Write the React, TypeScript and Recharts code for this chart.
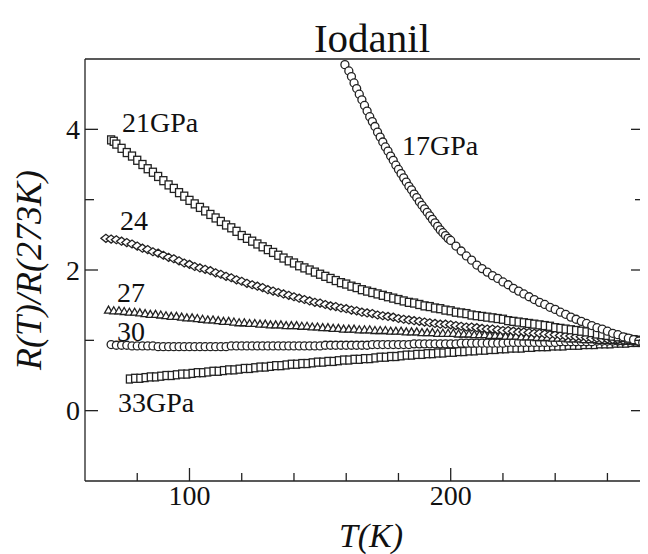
import React from 'react';
import { ScatterChart, Scatter, XAxis, YAxis, Customized } from 'recharts';

// Temperature (K), R(T)/R(273K) pairs
const s17: [number, number][] = [
  [159.5,4.92],[161,4.83],[162,4.75],[163,4.66],[164,4.58],[165,4.50],[166,4.42],[167,4.34],[168,4.26],[169,4.18],
  [170,4.11],[171,4.04],[172,3.96],[173,3.89],[174,3.82],[175,3.75],[176,3.69],[177,3.62],[178,3.56],[179,3.49],
  [180,3.43],[181,3.37],[182,3.31],[183,3.25],[184,3.19],[185,3.14],[186,3.08],[187,3.03],[188,2.97],[189,2.92],
  [190,2.87],[191,2.82],[192,2.77],[193,2.72],[194,2.67],[195,2.62],[196,2.57],[197,2.53],[198,2.49],[199,2.45],
  [200,2.42],[202,2.34],[204,2.27],[206,2.20],[208,2.14],[210,2.07],[212,2.02],[214,1.97],[216,1.92],[218,1.88],
  [220,1.83],[222,1.79],[224,1.74],[226,1.70],[228,1.66],[230,1.62],[232,1.58],[234,1.54],[236,1.51],[238,1.47],
  [240,1.44],[242,1.40],[244,1.37],[246,1.33],[248,1.30],[250,1.27],[252,1.24],[254,1.21],[256,1.18],[258,1.16],
  [260,1.13],[262,1.10],[264,1.08],[266,1.05],[268,1.03],[270,1.01],[272,0.99],[273.5,0.97],
];

const s21: [number, number][] = [
  [70,3.85],[71,3.83],[72,3.79],[74,3.73],[76,3.67],[78,3.62],[80,3.56],[82,3.50],[84,3.44],[86,3.39],[88,3.33],
  [90,3.27],[92,3.21],[94,3.16],[96,3.10],[98,3.05],[100,2.99],[102,2.94],[104,2.89],[106,2.84],[108,2.79],
  [110,2.74],[112,2.69],[114,2.64],[116,2.60],[118,2.55],[120,2.49],[122,2.45],[124,2.41],[126,2.37],[128,2.33],
  [130,2.29],[132,2.25],[134,2.21],[136,2.17],[138,2.13],[140,2.10],[142,2.06],[144,2.03],[146,2.00],[148,1.97],
  [150,1.94],[152,1.91],[154,1.88],[156,1.85],[158,1.82],[160,1.80],[162,1.77],[164,1.75],[166,1.72],[168,1.70],
  [170,1.68],[172,1.66],[174,1.64],[176,1.62],[178,1.60],[180,1.58],[182,1.56],[184,1.54],[186,1.53],[188,1.51],
  [190,1.49],[192,1.48],[194,1.46],[196,1.45],[198,1.43],[200,1.42],[202,1.40],[204,1.39],[206,1.38],[208,1.36],
  [210,1.35],[212,1.34],[214,1.33],[216,1.32],[218,1.31],[220,1.30],[222,1.28],[224,1.27],[226,1.26],[228,1.25],
  [230,1.24],[232,1.23],[234,1.22],[236,1.21],[238,1.20],[240,1.18],[242,1.17],[244,1.16],[246,1.15],[248,1.14],
  [250,1.13],[252,1.12],[254,1.11],[256,1.09],[258,1.08],[260,1.07],[262,1.06],[264,1.05],[266,1.04],[268,1.02],
  [270,1.01],[272,1.00],[273,0.99],
];

const s24: [number, number][] = [
  [68,2.45],[70,2.44],[72,2.43],[74,2.41],[76,2.39],[78,2.37],[80,2.34],[82,2.31],[84,2.29],[86,2.26],[88,2.24],
  [90,2.21],[92,2.18],[94,2.16],[96,2.13],[98,2.10],[100,2.08],[102,2.05],[104,2.03],[106,2.01],[108,1.99],
  [110,1.96],[112,1.94],[114,1.91],[116,1.89],[118,1.86],[120,1.84],[122,1.81],[124,1.79],[126,1.77],[128,1.75],
  [130,1.72],[132,1.70],[134,1.68],[136,1.66],[138,1.64],[140,1.62],[142,1.60],[144,1.58],[146,1.56],[148,1.54],
  [150,1.53],[152,1.51],[154,1.49],[156,1.48],[158,1.46],[160,1.45],[162,1.43],[164,1.42],[166,1.40],[168,1.39],
  [170,1.38],[172,1.36],[174,1.35],[176,1.34],[178,1.33],[180,1.31],[182,1.30],[184,1.29],[186,1.28],[188,1.27],
  [190,1.26],[192,1.25],[194,1.24],[196,1.23],[198,1.23],[200,1.22],[202,1.21],[204,1.20],[206,1.19],[208,1.19],
  [210,1.18],[212,1.17],[214,1.16],[216,1.16],[218,1.15],[220,1.14],[222,1.14],[224,1.13],[226,1.12],[228,1.12],
  [230,1.11],[232,1.10],[234,1.10],[236,1.09],[238,1.08],[240,1.08],[242,1.07],[244,1.06],[246,1.06],[248,1.05],
  [250,1.05],[252,1.04],[254,1.03],[256,1.03],[258,1.02],[260,1.02],[262,1.01],[264,1.01],[266,1.00],[268,1.00],
  [270,0.99],[272,0.99],[273,0.98],
];

const s27: [number, number][] = [
  [69,1.43],[71,1.42],[73,1.42],[75,1.41],[77,1.40],[79,1.40],[81,1.39],[83,1.38],[85,1.37],[87,1.37],[89,1.36],
  [91,1.35],[93,1.34],[95,1.34],[97,1.33],[99,1.32],[101,1.32],[103,1.31],[105,1.30],[107,1.29],[109,1.29],
  [111,1.28],[113,1.27],[115,1.27],[117,1.26],[119,1.25],[121,1.25],[123,1.24],[125,1.24],[127,1.23],[129,1.23],
  [131,1.22],[133,1.22],[135,1.22],[137,1.21],[139,1.21],[141,1.21],[143,1.20],[145,1.20],[147,1.19],[149,1.19],
  [151,1.18],[153,1.18],[155,1.17],[157,1.17],[159,1.16],[161,1.16],[163,1.16],[165,1.15],[167,1.15],[169,1.15],
  [171,1.14],[173,1.14],[175,1.14],[177,1.13],[179,1.13],[181,1.13],[183,1.12],[185,1.12],[187,1.12],[189,1.11],
  [191,1.11],[193,1.11],[195,1.10],[197,1.10],[199,1.10],[201,1.10],[203,1.09],[205,1.09],[207,1.09],[209,1.08],
  [211,1.08],[213,1.08],[215,1.07],[217,1.07],[219,1.07],[221,1.06],[223,1.06],[225,1.06],[227,1.05],[229,1.05],
  [231,1.05],[233,1.04],[235,1.04],[237,1.04],[239,1.03],[241,1.03],[243,1.03],[245,1.02],[247,1.02],[249,1.02],
  [251,1.01],[253,1.01],[255,1.01],[257,1.00],[259,1.00],[261,1.00],[263,1.00],[265,0.99],[267,0.99],[269,0.99],
  [271,0.98],[273,0.98],
];

const s30: [number, number][] = [
  [70,0.94],[72,0.93],[74,0.93],[76,0.93],[78,0.92],[80,0.92],[82,0.92],[84,0.92],[86,0.92],[88,0.91],[90,0.91],
  [92,0.91],[94,0.91],[96,0.91],[98,0.91],[100,0.91],[102,0.91],[104,0.91],[106,0.91],[108,0.91],[110,0.91],
  [112,0.91],[114,0.91],[116,0.92],[118,0.92],[120,0.92],[122,0.92],[124,0.92],[126,0.92],[128,0.92],[130,0.92],
  [132,0.92],[134,0.92],[136,0.92],[138,0.92],[140,0.92],[142,0.92],[144,0.92],[146,0.92],[148,0.92],[150,0.92],
  [152,0.93],[154,0.93],[156,0.93],[158,0.93],[160,0.93],[162,0.93],[164,0.93],[166,0.93],[168,0.93],[170,0.94],
  [172,0.94],[174,0.94],[176,0.94],[178,0.94],[180,0.94],[182,0.94],[184,0.94],[186,0.95],[188,0.95],[190,0.95],
  [192,0.95],[194,0.95],[196,0.95],[198,0.95],[200,0.95],[202,0.95],[204,0.96],[206,0.96],[208,0.96],[210,0.96],
  [212,0.96],[214,0.96],[216,0.96],[218,0.96],[220,0.96],[222,0.97],[224,0.97],[226,0.97],[228,0.97],[230,0.97],
  [232,0.97],[234,0.97],[236,0.97],[238,0.97],[240,0.97],[242,0.98],[244,0.98],[246,0.98],[248,0.98],[250,0.98],
  [252,0.98],[254,0.98],[256,0.99],[258,0.99],[260,0.99],[262,0.99],[264,0.99],[266,0.99],[268,1.00],[270,1.00],
  [272,1.00],[273,1.00],
];

const s33: [number, number][] = [
  [77,0.45],[79,0.46],[81,0.46],[83,0.47],[85,0.48],[87,0.48],[89,0.49],[91,0.50],[93,0.50],[95,0.51],[97,0.52],
  [99,0.52],[101,0.53],[103,0.54],[105,0.54],[107,0.55],[109,0.56],[111,0.56],[113,0.57],[115,0.58],[117,0.58],
  [119,0.59],[121,0.60],[123,0.60],[125,0.61],[127,0.62],[129,0.62],[131,0.63],[133,0.64],[135,0.64],[137,0.65],
  [139,0.66],[141,0.66],[143,0.67],[145,0.67],[147,0.68],[149,0.69],[151,0.69],[153,0.70],[155,0.70],[157,0.71],
  [159,0.72],[161,0.72],[163,0.73],[165,0.73],[167,0.74],[169,0.74],[171,0.75],[173,0.76],[175,0.76],[177,0.77],
  [179,0.77],[181,0.78],[183,0.79],[185,0.79],[187,0.80],[189,0.80],[191,0.81],[193,0.81],[195,0.82],[197,0.82],
  [199,0.83],[201,0.83],[203,0.84],[205,0.84],[207,0.85],[209,0.85],[211,0.86],[213,0.86],[215,0.87],[217,0.87],
  [219,0.88],[221,0.88],[223,0.89],[225,0.89],[227,0.89],[229,0.90],[231,0.90],[233,0.91],[235,0.91],[237,0.91],
  [239,0.92],[241,0.92],[243,0.92],[245,0.93],[247,0.93],[249,0.93],[251,0.94],[253,0.94],[255,0.94],[257,0.95],
  [259,0.95],[261,0.95],[263,0.96],[265,0.96],[267,0.96],[269,0.97],[271,0.97],[273,0.97],
];

const xTicks = [80, 100, 120, 140, 160, 180, 200, 220, 240, 260];
const xLabels = [100, 200];
const yTicks = [0, 1, 2, 3, 4];
const yLabels = [0, 2, 4];

const FONT = '"Liberation Serif", "DejaVu Serif", "Times New Roman", Times, serif';
const INK = '#222';
const TXT: React.CSSProperties = { fontFamily: FONT, fill: '#111' };

const toPts = (arr: [number, number][]) => arr.map(([T, R]) => ({ T, R }));

const Circle = (p: any) => (
  <circle cx={p.cx} cy={p.cy} r={4} fill="#fff" stroke={INK} strokeWidth={1.3} />
);
const Square = (p: any) => (
  <rect x={p.cx - 3.5} y={p.cy - 4} width={7} height={8} fill="#fff" stroke={INK} strokeWidth={1.3} />
);
const SmallSquare = (p: any) => (
  <rect x={p.cx - 3} y={p.cy - 4} width={6} height={8} fill="#fff" stroke={INK} strokeWidth={1.3} />
);
const Diamond = (p: any) => (
  <polygon
    points={`${p.cx - 5},${p.cy} ${p.cx},${p.cy - 4} ${p.cx + 5},${p.cy} ${p.cx},${p.cy + 4}`}
    fill="#fff" stroke={INK} strokeWidth={1.3}
  />
);
const Triangle = (p: any) => (
  <polygon
    points={`${p.cx},${p.cy - 4} ${p.cx + 4},${p.cy + 3} ${p.cx - 4},${p.cy + 3}`}
    fill="#fff" stroke={INK} strokeWidth={1.3}
  />
);

const BottomTick = (p: any) => {
  const v = p.payload.value;
  const major = xLabels.includes(v);
  return (
    <g>
      <line x1={p.x} y1={p.y} x2={p.x} y2={p.y - (major ? 13 : 8)} stroke={INK} strokeWidth={1.3} />
      {major && (
        <text x={p.x} y={p.y + 24} textAnchor="middle" style={{ ...TXT, fontSize: 28 }}>{v}</text>
      )}
    </g>
  );
};
const TopTick = (p: any) => {
  const major = xLabels.includes(p.payload.value);
  return <line x1={p.x} y1={p.y} x2={p.x} y2={p.y + (major ? 13 : 8)} stroke={INK} strokeWidth={1.3} />;
};
const LeftTick = (p: any) => {
  const v = p.payload.value;
  const major = yLabels.includes(v);
  return (
    <g>
      <line x1={p.x} y1={p.y} x2={p.x + (major ? 13 : 9)} y2={p.y} stroke={INK} strokeWidth={1.3} />
      {major && (
        <text x={p.x - 5} y={p.y + 9.5} textAnchor="end" style={{ ...TXT, fontSize: 28 }}>{v}</text>
      )}
    </g>
  );
};
const RightTick = (p: any) => {
  const major = yLabels.includes(p.payload.value);
  return <line x1={p.x} y1={p.y} x2={p.x - (major ? 13 : 9)} y2={p.y} stroke={INK} strokeWidth={1.3} />;
};

const Texts = () => (
  <g>
    <text x={364} y={44} textAnchor="middle" style={{ ...TXT, fontSize: 41 }}>Iodanil</text>
    <text x={363} y={539} textAnchor="middle" style={{ ...TXT, fontSize: 34, fontStyle: 'italic' }}>T(K)</text>
    <text x={33} y={262} textAnchor="middle" transform="rotate(-90 33 262)"
      style={{ ...TXT, fontSize: 36, fontStyle: 'italic' }}>R(T)/R(273K)</text>
    <text x={114} y={124} style={{ ...TXT, fontSize: 28 }}>21GPa</text>
    <text x={112} y={222} style={{ ...TXT, fontSize: 28 }}>24</text>
    <text x={109} y={294} style={{ ...TXT, fontSize: 28 }}>27</text>
    <text x={109} y={333} style={{ ...TXT, fontSize: 28 }}>30</text>
    <text x={110} y={404} style={{ ...TXT, fontSize: 28 }}>33GPa</text>
    <text x={394} y={147} style={{ ...TXT, fontSize: 28 }}>17GPa</text>
  </g>
);

export default function App() {
  const axisLine = { stroke: INK, strokeWidth: 1.3 };
  return (
    <ScatterChart width={640} height={546} margin={{ top: 31, right: 0, bottom: 43, left: 37 }}>
      <XAxis
        xAxisId="b" dataKey="T" type="number" domain={[60, 274]} ticks={xTicks} interval={0}
        allowDataOverflow orientation="bottom" height={30} tickSize={0} tickMargin={0}
        tickLine={false} axisLine={axisLine} tick={BottomTick}
      />
      <XAxis
        xAxisId="t" type="number" domain={[60, 274]} ticks={xTicks} interval={0}
        allowDataOverflow orientation="top" height={20} tickSize={0} tickMargin={0}
        tickLine={false} axisLine={axisLine} tick={TopTick}
      />
      <YAxis
        yAxisId="l" dataKey="R" type="number" domain={[-1, 5]} ticks={yTicks} interval={0}
        allowDataOverflow orientation="left" width={40} tickSize={0} tickMargin={0}
        tickLine={false} axisLine={axisLine} tick={LeftTick}
      />
      <YAxis
        yAxisId="r" type="number" domain={[-1, 5]} ticks={yTicks} interval={0}
        allowDataOverflow orientation="right" width={4} tickSize={0} tickMargin={0}
        tickLine={false} axisLine={axisLine} tick={RightTick}
      />
      <Scatter xAxisId="b" yAxisId="l" data={toPts(s33)} shape={SmallSquare} isAnimationActive={false} />
      <Scatter xAxisId="b" yAxisId="l" data={toPts(s30)} shape={Circle} isAnimationActive={false} />
      <Scatter xAxisId="b" yAxisId="l" data={toPts(s27)} shape={Triangle} isAnimationActive={false} />
      <Scatter xAxisId="b" yAxisId="l" data={toPts(s24)} shape={Diamond} isAnimationActive={false} />
      <Scatter xAxisId="b" yAxisId="l" data={toPts(s21)} shape={Square} isAnimationActive={false} />
      <Scatter xAxisId="b" yAxisId="l" data={toPts(s17)} shape={Circle} isAnimationActive={false} />
      <Customized component={Texts} />
    </ScatterChart>
  );
}
